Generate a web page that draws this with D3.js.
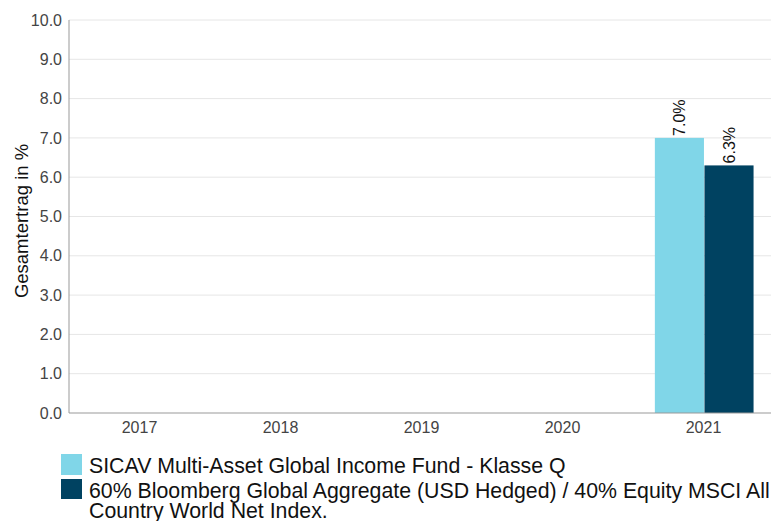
<!DOCTYPE html>
<html>
<head>
<meta charset="utf-8">
<script src="https://cdn.jsdelivr.net/npm/d3@7"></script>
<style>
  body { margin: 0; background: #fff; font-family: "Liberation Sans", Arial, sans-serif; overflow: hidden; }
</style>
</head>
<body>
<svg id="chart"></svg>
<script>
const years = ["2017", "2018", "2019", "2020", "2021"];
const seriesNames = [
    "SICAV Multi-Asset Global Income Fund - Klasse Q",
    "60% Bloomberg Global Aggregate (USD Hedged) / 40% Equity MSCI All",
    "Country World Net Index."
];
const fundValues = [null, null, null, null, 7.0];
const indexValues = [null, null, null, null, 6.3];
const colors = ["#80d6e8", "#004261"];
const yTicks = [0, 1, 2, 3, 4, 5, 6, 7, 8, 9, 10];

const W = 771, H = 521;
const margin = { top: 20, right: 0, bottom: 108, left: 69 };
const width = W - margin.left - margin.right;
const height = H - margin.top - margin.bottom;

const svg = d3.select("#chart").attr("width", W).attr("height", H).style("display", "block");
const g = svg.append("g").attr("transform", `translate(${margin.left},${margin.top})`);

const x = d3.scaleBand().domain(years).range([0, width + 3]);
const x1 = d3.scaleBand().domain([0, 1]).range([x.bandwidth() * 0.155, x.bandwidth() * 0.855]).paddingInner(0.01);
const y = d3.scaleLinear().domain([0, 10]).range([height, 0]);

// gridlines
g.selectAll(".grid").data(yTicks.slice(1)).enter().append("line")
    .attr("x1", 0).attr("x2", width)
    .attr("y1", d => y(d)).attr("y2", d => y(d))
    .attr("stroke", "#e6e6e6");

// y tick labels
g.selectAll(".ylab").data(yTicks).enter().append("text")
    .attr("x", -7).attr("y", d => y(d)).attr("dy", "0.35em")
    .attr("text-anchor", "end")
    .attr("font-size", 16).attr("fill", "#444")
    .text(d => d.toFixed(1));

// bars
const series = [fundValues, indexValues];
series.forEach((vals, si) => {
    const data = years.map((yr, i) => ({ yr, v: vals[i] })).filter(d => d.v != null);
    g.selectAll(".bar" + si).data(data).enter().append("rect")
        .attr("x", d => x(d.yr) + x1(si))
        .attr("width", x1.bandwidth())
        .attr("y", d => y(d.v))
        .attr("height", d => height - y(d.v))
        .attr("fill", colors[si]);
    g.selectAll(".lab" + si).data(data).enter().append("text")
        .attr("transform", d => `translate(${x(d.yr) + x1(si) + x1.bandwidth() / 2},${y(d.v) - 2}) rotate(-90)`)
        .attr("dy", "0.35em")
        .attr("font-size", 16).attr("fill", "#111")
        .text(d => d.v.toFixed(1) + "%");
});

// axes lines
g.append("line").attr("x1", 0).attr("x2", 0).attr("y1", 0).attr("y2", height).attr("stroke", "#999");
g.append("line").attr("x1", 0).attr("x2", width).attr("y1", height).attr("y2", height).attr("stroke", "#999");

// x labels
g.selectAll(".xlab").data(years).enter().append("text")
    .attr("x", d => x(d) + x.bandwidth() / 2)
    .attr("y", height + 20)
    .attr("text-anchor", "middle")
    .attr("font-size", 16).attr("fill", "#444")
    .text(d => d);

// y axis title
svg.append("text")
    .attr("transform", "translate(28,221) rotate(-90)")
    .attr("text-anchor", "middle")
    .attr("font-size", 18.5).attr("fill", "#111")
    .text("Gesamtertrag in %");

// legend
const legend = svg.append("g").attr("transform", "translate(61,454)");
legend.append("rect").attr("x", 0).attr("y", 0).attr("width", 21).attr("height", 21).attr("fill", colors[0]);
legend.append("text").attr("x", 28).attr("y", 19).attr("font-size", 21.3).attr("fill", "#111").text(seriesNames[0]);
legend.append("rect").attr("x", 0).attr("y", 25).attr("width", 21).attr("height", 20).attr("fill", colors[1]);
legend.append("text").attr("x", 28).attr("y", 44).attr("font-size", 21.3).attr("fill", "#111").text(seriesNames[1]);
legend.append("text").attr("x", 28).attr("y", 64).attr("font-size", 21.3).attr("fill", "#111").text(seriesNames[2]);
</script>
</body>
</html>
